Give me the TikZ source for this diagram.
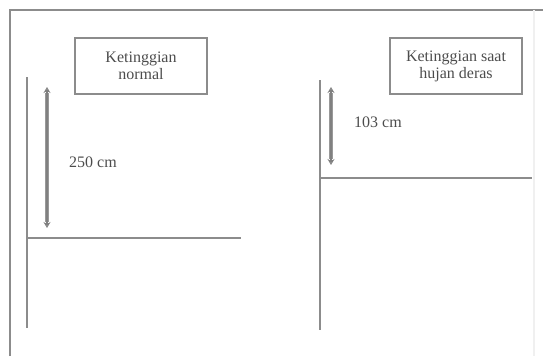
\documentclass[tikz,border=0pt]{standalone}
\usepackage{fontspec}
\setmainfont{Liberation Serif}
\usetikzlibrary{arrows.meta}
\begin{document}
\begin{tikzpicture}[x=1pt,y=-1pt,
  frameline/.style={draw=black!45,line width=1.6pt},
  faintline/.style={draw=black!6,line width=1.2pt},
  levelline/.style={draw=black!45,line width=1.6pt},
  labelbox/.style={draw=black!45,line width=1.3pt,align=center,inner sep=0pt,
    font=\fontsize{16}{17}\selectfont,text=black!70},
  shaft/.style={draw=black!40,line width=3.2pt},
  tips/.style={{Stealth[length=6pt,width=7pt,open,line width=1.2pt]}-{Stealth[length=6pt,width=7pt,open,line width=1.2pt]},
    draw=black!50,line width=1.2pt},
  measurelabel/.style={font=\fontsize{16}{17}\selectfont,text=black!70,inner sep=0pt}]
\useasboundingbox (0,0) rectangle (543,356);
% outer frame
\coordinate (fbl) at (10,356);
\coordinate (ftl) at (10,10);
\coordinate (ftr) at (543,10);
\coordinate (rt) at (534,10);
\coordinate (rb) at (534,356);
\draw[frameline] (fbl) -- (ftl) -- (ftr);
\draw[faintline] (rt) -- (rb);
% left diagram
\node[labelbox,minimum width=132pt,minimum height=56pt] (boxL) at (141,66) {Ketinggian\\normal};
\coordinate (vLt) at (27,77);
\coordinate (vLb) at (27,328);
\draw[levelline] (vLt) -- (vLb);
\coordinate (hLa) at (27,238);
\coordinate (hLb) at (241,238);
\draw[levelline] (hLa) -- (hLb);
\coordinate (aLt) at (47,87);
\coordinate (aLb) at (47,228);
\draw[shaft,shorten <=6pt,shorten >=6pt] (aLt) -- (aLb);
\draw[tips] (aLt) -- (aLb);
\node[measurelabel] (lblL) at (93,162) {250 cm};
% right diagram
\node[labelbox,minimum width=132pt,minimum height=56pt] (boxR) at (456,66) {Ketinggian saat\\hujan deras};
\coordinate (vRt) at (320,80);
\coordinate (vRb) at (320,330);
\coordinate (hRa) at (320,178);
\coordinate (hRb) at (532,178);
\draw[levelline] (vRt) -- (vRb);
\draw[levelline] (hRa) -- (hRb);
\coordinate (aRt) at (331,87);
\coordinate (aRb) at (331,165);
\draw[shaft,shorten <=6pt,shorten >=6pt] (aRt) -- (aRb);
\draw[tips] (aRt) -- (aRb);
\node[measurelabel] (lblR) at (378,122) {103 cm};
\end{tikzpicture}
\end{document}
